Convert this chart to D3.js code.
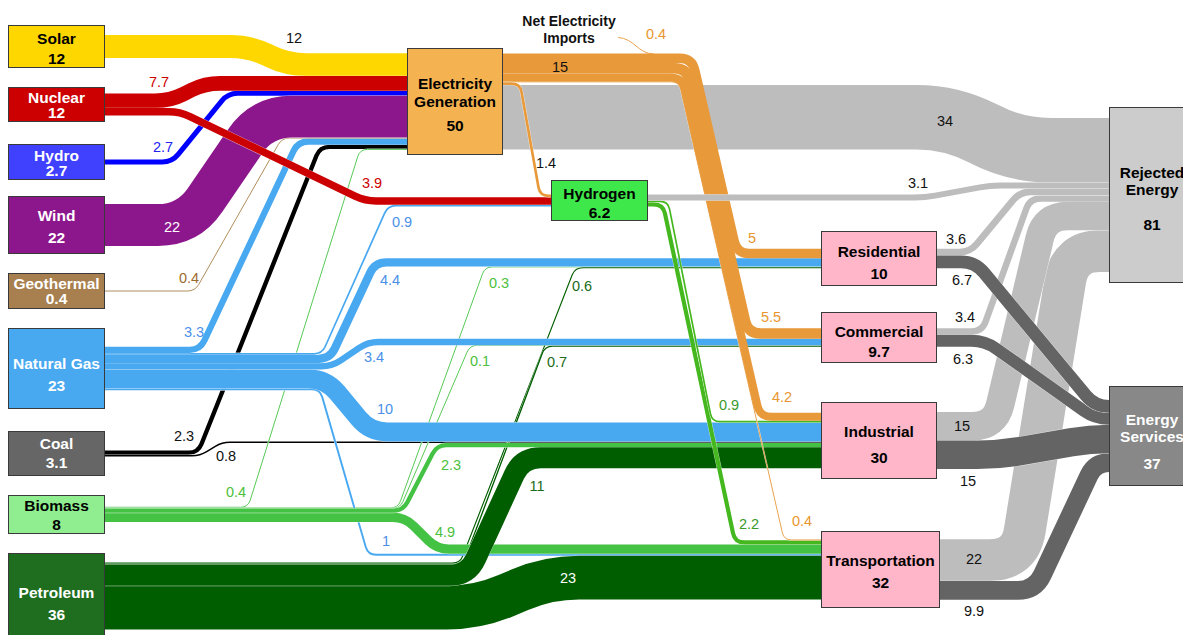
<!DOCTYPE html>
<html><head><meta charset="utf-8">
<script src="https://cdn.jsdelivr.net/npm/d3@7"></script>
<style>html,body{margin:0;padding:0;background:#fff;overflow:hidden}svg{display:block}</style>
</head><body>
<svg id="chart" width="1183" height="635"></svg>
<script>
// ---------------- DATA ----------------
const nodeNames = ["Solar","Nuclear","Hydro","Wind","Geothermal","Natural Gas","Coal","Biomass","Petroleum",
  "Electricity Generation","Hydrogen","Residential","Commercial","Industrial","Transportation","Rejected Energy","Energy Services"];
const nodeValues = [12,12,2.7,22,0.4,23,3.1,8,36,50,6.2,10,9.7,30,32,81,37];
const flows = [
  ["Solar","Electricity Generation",12],
  ["Nuclear","Electricity Generation",7.7],
  ["Nuclear","Hydrogen",3.9],
  ["Hydro","Electricity Generation",2.7],
  ["Wind","Electricity Generation",22],
  ["Geothermal","Electricity Generation",0.4],
  ["Natural Gas","Electricity Generation",3.3],
  ["Natural Gas","Hydrogen",0.9],
  ["Natural Gas","Residential",4.4],
  ["Natural Gas","Commercial",3.4],
  ["Natural Gas","Industrial",10],
  ["Natural Gas","Transportation",1],
  ["Coal","Electricity Generation",2.3],
  ["Coal","Industrial",0.8],
  ["Biomass","Electricity Generation",0.4],
  ["Biomass","Residential",0.3],
  ["Biomass","Commercial",0.1],
  ["Biomass","Industrial",2.3],
  ["Biomass","Transportation",4.9],
  ["Petroleum","Residential",0.6],
  ["Petroleum","Commercial",0.7],
  ["Petroleum","Industrial",11],
  ["Petroleum","Transportation",23],
  ["Electricity Generation","Residential",5],
  ["Electricity Generation","Commercial",5.5],
  ["Electricity Generation","Industrial",4.2],
  ["Electricity Generation","Transportation",0.4],
  ["Electricity Generation","Hydrogen",1.4],
  ["Electricity Generation","Rejected Energy",34],
  ["Hydrogen","Rejected Energy",3.1],
  ["Hydrogen","Industrial",0.9],
  ["Hydrogen","Transportation",2.2],
  ["Residential","Rejected Energy",3.6],
  ["Residential","Energy Services",6.7],
  ["Commercial","Rejected Energy",3.4],
  ["Commercial","Energy Services",6.3],
  ["Industrial","Rejected Energy",15],
  ["Industrial","Energy Services",15],
  ["Transportation","Rejected Energy",22],
  ["Transportation","Energy Services",9.9]
];
const netImports = 0.4;
const sectors = ["Residential","Commercial","Industrial","Transportation"];

// ---------------- LAYOUT / STYLE ----------------
const columns = ["source","generation","hydrogen","sector","sink"];
const colX = d3.scaleOrdinal().domain(columns).range([8, 407, 551, 821, 1109]);
const wScale = d3.scaleLinear().domain([0, 1]).range([0, 1.9]);

const nodeLayout = {
  "Solar":       {col:"source", top:25,  h:43, w:97, fill:"#FFD700", text:"#000", dy:[-8,12]},
  "Nuclear":     {col:"source", top:87,  h:35, w:97, fill:"#CC0000", text:"#fff", dy:[-7.5,8]},
  "Hydro":       {col:"source", top:144, h:36, w:97, fill:"#4040FF", text:"#fff", dy:[-7,8]},
  "Wind":        {col:"source", top:196, h:58, w:97, fill:"#8C168C", text:"#fff", dy:[-10,12]},
  "Geothermal":  {col:"source", top:273, h:36, w:97, fill:"#A8804F", text:"#fff", dy:[-8,7]},
  "Natural Gas": {col:"source", top:328, h:81, w:97, fill:"#48A8F0", text:"#fff", dy:[-5,17]},
  "Coal":        {col:"source", top:431, h:45, w:97, fill:"#666666", text:"#fff", dy:[-10,9]},
  "Biomass":     {col:"source", top:495, h:39, w:97, fill:"#90EE90", text:"#000", dy:[-9,10]},
  "Petroleum":   {col:"source", top:553, h:86, w:97, fill:"#1F6E1F", text:"#fff", dy:[-4,18]},
  "Electricity Generation": {col:"generation", top:48, h:107, w:96, fill:"#F4B350", text:"#000", dy:[-18.5,-0.5,23.5], lines:["Electricity","Generation"]},
  "Hydrogen":    {col:"hydrogen", top:180, h:41, w:97, fill:"#3FE84A", text:"#000", dy:[-7,12]},
  "Residential": {col:"sector", top:231, h:55, w:116, fill:"#FFB6C8", text:"#000", dy:[-7.5,14.5]},
  "Commercial":  {col:"sector", top:312, h:51, w:116, fill:"#FFB6C8", text:"#000", dy:[-6.5,13.5]},
  "Industrial":  {col:"sector", top:402, h:77, w:116, fill:"#FFB6C8", text:"#000", dy:[-9.5,16.5]},
  "Transportation": {col:"sector", top:531, h:77, w:119, fill:"#FFB6C8", text:"#000", dy:[-9.5,12.5]},
  "Rejected Energy": {col:"sink", top:107, h:176, w:100, fill:"#CCCCCC", text:"#000", dy:[-23,-6,29], lines:["Rejected","Energy"], tx:43},
  "Energy Services": {col:"sink", top:386, h:100, w:100, fill:"#888888", text:"#fff", dy:[-17,0,27], lines:["Energy","Services"], tx:43}
};
// stacking order at each node side (top to bottom)
const outOrder = {
  "Nuclear":["Electricity Generation","Hydrogen"],
  "Natural Gas":["Electricity Generation","Hydrogen","Residential","Commercial","Industrial","Transportation"],
  "Coal":["Electricity Generation","Industrial"],
  "Biomass":["Electricity Generation","Residential","Commercial","Industrial","Transportation"],
  "Petroleum":["Residential","Commercial","Industrial","Transportation"],
  "Electricity Generation":["Residential","Commercial","Industrial","Transportation","Hydrogen","Rejected Energy"],
  "Hydrogen":["Rejected Energy","Industrial","Transportation"],
  "Residential":["Rejected Energy","Energy Services"],
  "Commercial":["Rejected Energy","Energy Services"],
  "Industrial":["Rejected Energy","Energy Services"],
  "Transportation":["Rejected Energy","Energy Services"]
};
const inOrder = {
  "Electricity Generation":["Solar","Nuclear","Hydro","Wind","Geothermal","Natural Gas","Coal","Biomass"],
  "Hydrogen":["Electricity Generation","Nuclear","Natural Gas"],
  "Residential":["Electricity Generation","Natural Gas","Biomass","Petroleum"],
  "Commercial":["Electricity Generation","Natural Gas","Biomass","Petroleum"],
  "Industrial":["Electricity Generation","Hydrogen","Natural Gas","Coal","Biomass","Petroleum"],
  "Transportation":["Electricity Generation","Hydrogen","Biomass","Natural Gas","Petroleum"],
  "Rejected Energy":["Electricity Generation","Hydrogen","Residential","Commercial","Industrial","Transportation"],
  "Energy Services":["Residential","Commercial","Industrial","Transportation"]
};
// x where each flow leaves its source level and reaches its target level
const routes = {
  "Solar>Electricity Generation":[250,287],
  "Nuclear>Electricity Generation":[170,205],
  "Nuclear>Hydrogen":[180,365],
  "Hydro>Electricity Generation":[172,228],
  "Wind>Electricity Generation":[188,262],
  "Geothermal>Electricity Generation":[195,282],
  "Natural Gas>Electricity Generation":[200,298],
  "Natural Gas>Hydrogen":[322,388],
  "Natural Gas>Residential":[330,375],
  "Natural Gas>Commercial":[332,368],
  "Natural Gas>Industrial":[326,370],
  "Natural Gas>Transportation":[320,368],
  "Coal>Electricity Generation":[198,320],
  "Coal>Industrial":[200,222],
  "Biomass>Electricity Generation":[248,360],
  "Biomass>Residential":[398,485],
  "Biomass>Commercial":[400,470],
  "Biomass>Industrial":[403,437],
  "Biomass>Transportation":[405,437],
  "Petroleum>Residential":[460,575],
  "Petroleum>Commercial":[463,545],
  "Petroleum>Industrial":[468,522],
  "Petroleum>Transportation":[478,548],
  "Electricity Generation>Residential":[692,737],
  "Electricity Generation>Commercial":[687,748],
  "Electricity Generation>Industrial":[682,760],
  "Electricity Generation>Transportation":[679,784],
  "Electricity Generation>Hydrogen":[520,540],
  "Electricity Generation>Rejected Energy":[952,1015],
  "Hydrogen>Rejected Energy":[925,990],
  "Hydrogen>Industrial":[668,712],
  "Hydrogen>Transportation":[663,735],
  "Residential>Rejected Energy":[970,1020],
  "Residential>Energy Services":[975,1095],
  "Commercial>Rejected Energy":[982,1030],
  "Commercial>Energy Services":[985,1095],
  "Industrial>Rejected Energy":[995,1045],
  "Industrial>Energy Services":[1000,1090],
  "Transportation>Rejected Energy":[1020,1070],
  "Transportation>Energy Services":[1035,1095]
};
const zOrder = [
  "Electricity Generation>Rejected Energy",
  "Transportation>Rejected Energy","Industrial>Rejected Energy","Commercial>Rejected Energy","Residential>Rejected Energy",
  "Transportation>Energy Services","Industrial>Energy Services","Commercial>Energy Services","Residential>Energy Services",
  "Coal>Electricity Generation","Coal>Industrial",
  "Biomass>Electricity Generation","Biomass>Residential","Biomass>Commercial",
  "Petroleum>Residential","Petroleum>Commercial",
  "Natural Gas>Transportation","Natural Gas>Industrial","Natural Gas>Commercial","Natural Gas>Residential","Natural Gas>Hydrogen","Natural Gas>Electricity Generation",
  "Geothermal>Electricity Generation","Hydro>Electricity Generation","Wind>Electricity Generation","Solar>Electricity Generation","Nuclear>Electricity Generation",
  "Biomass>Transportation","Biomass>Industrial",
  "Petroleum>Transportation","Petroleum>Industrial",
  "Nuclear>Hydrogen",
  "Hydrogen>Transportation","Hydrogen>Industrial",
  "Electricity Generation>Transportation","Electricity Generation>Industrial","Electricity Generation>Commercial","Electricity Generation>Residential","Electricity Generation>Hydrogen",
  "Hydrogen>Rejected Energy"
];
// bundles drawn without separating white casing
const noCasing = ["Electricity Generation>Industrial","Electricity Generation>Commercial","Electricity Generation>Residential"];
const flowColor = {"Solar":"#FFD700","Nuclear":"#CC0000","Hydro":"#0000FF","Wind":"#8C168C","Geothermal":"#A8804A",
  "Natural Gas":"#48A8F0","Coal":"#000000","Biomass":"#44C244","Petroleum":"#005E00","Electricity Generation":"#E8993A","Hydrogen":"#44B81E"};
const labelColor = {"Solar":"#111","Nuclear":"#CC0000","Hydro":"#2222EE","Wind":"#fff","Geothermal":"#9C6B2E",
  "Natural Gas":"#4A8FE7","Coal":"#111","Biomass":"#4CBF3C","Petroleum":"#1A6B1A","Electricity Generation":"#E8962F","Hydrogen":"#3A9A2A"};
const labelPos = {
  "Solar>Electricity Generation":[294,37.5],
  "Nuclear>Electricity Generation":[159,82],
  "Nuclear>Hydrogen":[372,183],
  "Hydro>Electricity Generation":[163,147],
  "Wind>Electricity Generation":[172,227],
  "Geothermal>Electricity Generation":[189,278],
  "Natural Gas>Electricity Generation":[194,332],
  "Natural Gas>Hydrogen":[402,222],
  "Natural Gas>Residential":[390,280],
  "Natural Gas>Commercial":[374,357],
  "Natural Gas>Industrial":[385,409],
  "Natural Gas>Transportation":[386,541],
  "Coal>Electricity Generation":[184,436],
  "Coal>Industrial":[226,456],
  "Biomass>Electricity Generation":[236,492],
  "Biomass>Residential":[499,283],
  "Biomass>Commercial":[480,361],
  "Biomass>Industrial":[451,465],
  "Biomass>Transportation":[445,532],
  "Petroleum>Residential":[582,286],
  "Petroleum>Commercial":[557,362],
  "Petroleum>Industrial":[537,486],
  "Petroleum>Transportation":[568,578],
  "Electricity Generation>Residential":[752,238],
  "Electricity Generation>Commercial":[771,317],
  "Electricity Generation>Industrial":[782,397],
  "Electricity Generation>Transportation":[802,521],
  "Electricity Generation>Hydrogen":[546,163],
  "Electricity Generation>Rejected Energy":[945,121],
  "Hydrogen>Rejected Energy":[918,183],
  "Hydrogen>Industrial":[729,405],
  "Hydrogen>Transportation":[749,524],
  "Residential>Rejected Energy":[956,239],
  "Residential>Energy Services":[962,280],
  "Commercial>Rejected Energy":[965,317],
  "Commercial>Energy Services":[963,359],
  "Industrial>Rejected Energy":[962,426],
  "Industrial>Energy Services":[968,481],
  "Transportation>Rejected Energy":[974,559],
  "Transportation>Energy Services":[974,611]
};
const bundleLabelPos = [560, 67];
const importsLabelPos = [656, 34];
const importsTitlePos = [569, 21];

// ---------------- BUILD ----------------
const FONT = "'Liberation Sans', Arial, Helvetica, sans-serif";
const svg = d3.select("#chart");
const nodes = new Map(nodeNames.map((n,i)=>{
  const L = nodeLayout[n];
  return [n, {name:n, value:nodeValues[i], x:colX(L.col), y:L.top, w:L.w, h:L.h, cy:L.top+L.h/2, L}];
}));
const links = flows.map(([s,t,v])=>({source:s, target:t, value:v, key:s+">"+t, thick:wScale(v), width:Math.max(wScale(v),0.9)}));

nodes.forEach((nd, name)=>{
  const outs = links.filter(l=>l.source===name);
  const ord = outOrder[name] || outs.map(l=>l.target);
  outs.sort((a,b)=>ord.indexOf(a.target)-ord.indexOf(b.target));
  let y = nd.cy - d3.sum(outs, l=>l.thick)/2;
  outs.forEach(l=>{ l.sy = y + l.thick/2; y += l.thick; l.sx = nd.x + nd.w; });
  const ins = links.filter(l=>l.target===name);
  const ord2 = inOrder[name] || ins.map(l=>l.source);
  ins.sort((a,b)=>ord2.indexOf(a.source)-ord2.indexOf(b.source));
  let y2 = nd.cy - d3.sum(ins, l=>l.thick)/2;
  ins.forEach(l=>{ l.ty = y2 + l.thick/2; y2 += l.thick; l.tx = nd.x; });
});

const dist = (a,b)=>Math.hypot(b[0]-a[0], b[1]-a[1]);
function addCorner(p, P, A, N, t){
  const d1 = dist(P,A), d2 = dist(A,N);
  if (t <= 0.01 || d1 < 1e-6 || d2 < 1e-6){ p.lineTo(A[0],A[1]); return; }
  const u1=[(A[0]-P[0])/d1,(A[1]-P[1])/d1], u2=[(N[0]-A[0])/d2,(N[1]-A[1])/d2];
  p.lineTo(A[0]-u1[0]*t, A[1]-u1[1]*t);
  p.quadraticCurveTo(A[0], A[1], A[0]+u2[0]*t, A[1]+u2[1]*t);
}
function flowPath(l){
  const R = routes[l.key];
  const P0=[l.sx,l.sy], A=[R[0],l.sy], B=[R[1],l.ty], P3=[l.tx,l.ty];
  const r = 7 + l.width*0.55, dAB = dist(A,B);
  const p = d3.path();
  p.moveTo(P0[0],P0[1]);
  addCorner(p, P0, A, B, Math.min(r, dist(P0,A), dAB/2));
  addCorner(p, A, B, P3, Math.min(r, dAB/2, dist(B,P3)));
  p.lineTo(P3[0],P3[1]);
  return p.toString();
}
function colorOf(l){
  if (l.target==="Rejected Energy") return "#BDBDBD";
  if (l.target==="Energy Services") return "#646464";
  return flowColor[l.source];
}
const byKey = new Map(links.map(l=>[l.key,l]));
const ordered = zOrder.map(k=>byKey.get(k));

const gLinks = svg.append("g").attr("fill","none");
ordered.forEach(l=>{
  const d = flowPath(l);
  if (!noCasing.includes(l.key))
    gLinks.append("path").attr("d",d).attr("stroke","#fff").attr("stroke-width",l.width+0.7).attr("stroke-opacity",0.75);
  gLinks.append("path").attr("d",d).attr("stroke",colorOf(l)).attr("stroke-width",l.width);
});

// net electricity imports leader joining the top of the electricity bundle
const elecOut = links.filter(l=>l.source==="Electricity Generation" && sectors.includes(l.target));
const bundleTop = d3.min(elecOut, l=>l.sy - l.thick/2);
const impW = Math.max(wScale(netImports),0.9);
const ip = d3.path();
ip.moveTo(importsLabelPos[0]-38, importsLabelPos[1]+3.5);
ip.bezierCurveTo(importsLabelPos[0]-22, importsLabelPos[1]+4, importsLabelPos[0]-18, bundleTop+impW/2, importsLabelPos[0]-2, bundleTop+impW/2);
gLinks.append("path").attr("d",ip.toString()).attr("stroke","#E8993A").attr("stroke-width",impW);

// nodes
const gNodes = svg.append("g");
nodes.forEach(nd=>{
  gNodes.append("rect").attr("x",nd.x+0.5).attr("y",nd.y+0.5).attr("width",nd.w-1).attr("height",nd.h-1)
    .attr("fill",nd.L.fill).attr("stroke","#3a3a3a").attr("stroke-width",1);
  const lines = (nd.L.lines || [nd.name]).concat([String(nd.value)]);
  const tx = nd.x + (nd.L.tx !== undefined ? nd.L.tx : nd.w/2);
  lines.forEach((t,i)=>{
    gNodes.append("text").attr("x",tx).attr("y",nd.cy + nd.L.dy[i]).attr("dy","0.36em")
      .attr("text-anchor","middle").attr("font-family",FONT).attr("font-weight","bold")
      .attr("font-size",15.5).attr("fill",nd.L.text).text(t);
  });
});

// flow labels
const gLab = svg.append("g").attr("font-family",FONT).attr("font-size",14.5).attr("text-anchor","middle");
links.forEach(l=>{
  const pos = labelPos[l.key]; if(!pos) return;
  let c = labelColor[l.source];
  if (l.target==="Rejected Energy" || l.target==="Energy Services" || l.key==="Electricity Generation>Hydrogen") c = "#111";
  if (l.key==="Petroleum>Transportation") c = "#fff";
  gLab.append("text").attr("x",pos[0]).attr("y",pos[1]).attr("dy","0.36em").attr("fill",c).text(String(l.value));
});
gLab.append("text").attr("x",bundleLabelPos[0]).attr("y",bundleLabelPos[1]).attr("dy","0.36em").attr("fill","#111")
  .text(d3.format(".2~r")(d3.sum(elecOut,l=>l.value)));
gLab.append("text").attr("x",importsLabelPos[0]).attr("y",importsLabelPos[1]).attr("dy","0.36em").attr("fill","#E8962F").text(String(netImports));
svg.append("text").attr("x",importsTitlePos[0]).attr("y",importsTitlePos[1]).attr("text-anchor","middle")
  .attr("font-family",FONT).attr("font-weight","bold").attr("font-size",14).attr("fill","#111")
  .selectAll("tspan").data(["Net Electricity","Imports"]).join("tspan")
  .attr("x",importsTitlePos[0]).attr("dy",(d,i)=> i===0 ? "0.36em" : "1.2em").text(d=>d);
</script>
</body></html>
